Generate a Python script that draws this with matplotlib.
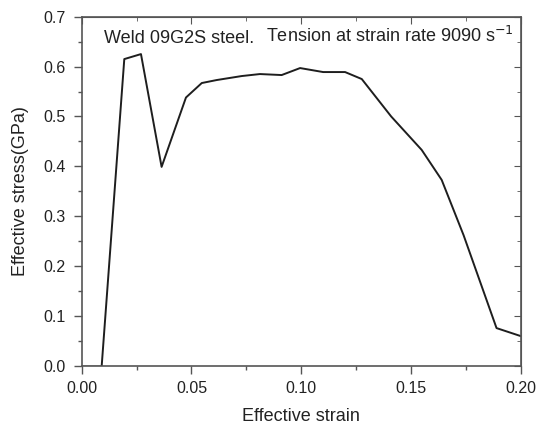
import matplotlib
matplotlib.use("Agg")
import matplotlib.pyplot as plt
from matplotlib.ticker import MultipleLocator, FormatStrFormatter

plt.rcParams['font.family'] = ['Liberation Sans', 'DejaVu Sans']

strain = [0.0091, 0.0194, 0.0270, 0.0364, 0.0475, 0.0547, 0.0615, 0.0729, 0.0812,
          0.0911, 0.0995, 0.1100, 0.1200, 0.1276, 0.1410, 0.1549, 0.1640, 0.1740,
          0.1890, 0.2000]
stress = [0.000, 0.615, 0.625, 0.399, 0.538, 0.567, 0.573, 0.581, 0.585,
          0.583, 0.597, 0.589, 0.589, 0.575, 0.500, 0.433, 0.373, 0.262,
          0.076, 0.060]

fig = plt.figure(figsize=(5.39, 4.26), dpi=100)
ax = fig.add_axes([0.1516, 0.1408, 0.8144, 0.8201])

axis_col = '#555555'
txt_col = '#222222'
ax.plot([0.0, strain[0]], [0, 0], color='#aaaaaa', lw=1.2)
ax.plot(strain, stress, color='#1e1e1e', lw=1.4)

ax.set_xlim(0, 0.20)
ax.set_ylim(0, 0.7)
ax.xaxis.set_major_locator(MultipleLocator(0.05))
ax.xaxis.set_minor_locator(MultipleLocator(0.025))
ax.yaxis.set_major_locator(MultipleLocator(0.1))
ax.yaxis.set_minor_locator(MultipleLocator(0.05))
ax.xaxis.set_major_formatter(FormatStrFormatter('%.2f'))
ax.yaxis.set_major_formatter(FormatStrFormatter('%.1f'))

for s in ax.spines.values():
    s.set_color(axis_col)
    s.set_linewidth(1.2)

ax.tick_params(which='both', direction='out', color=axis_col, width=1.0,
               labelsize=11.5, labelcolor=txt_col)
ax.tick_params(which='major', length=5.5)
ax.tick_params(which='minor', length=3)
ax.tick_params(axis='y', which='major', pad=6)
ax.tick_params(axis='x', which='major', pad=5)

secx = ax.secondary_xaxis('top')
secx.xaxis.set_major_locator(MultipleLocator(0.05))
secx.xaxis.set_minor_locator(MultipleLocator(0.025))
secx.tick_params(which='both', direction='in', color=axis_col, labeltop=False)
secx.tick_params(which='major', length=5)
secx.tick_params(which='minor', length=3)
secx.spines['top'].set_color(axis_col)

secy = ax.secondary_yaxis('right')
secy.yaxis.set_major_locator(MultipleLocator(0.1))
secy.yaxis.set_minor_locator(MultipleLocator(0.05))
secy.tick_params(which='both', direction='in', color=axis_col, labelright=False)
secy.tick_params(which='major', length=5)
secy.tick_params(which='minor', length=3)
secy.spines['right'].set_color(axis_col)

ax.set_xlabel('Effective strain', fontsize=13, color=txt_col, labelpad=9)
ax.set_ylabel('Effective stress(GPa)', fontsize=13, color=txt_col, labelpad=10)

ax.text(0.0443, 0.656, 'Weld 09G2S steel.', fontsize=13, color=txt_col,
        ha='center', va='center')
ax.text(0.1402, 0.662, 'Tension at strain rate 9090 s$^{-1}$', fontsize=13,
        color=txt_col, ha='center', va='center')

fig.savefig('out.png', dpi=100)
